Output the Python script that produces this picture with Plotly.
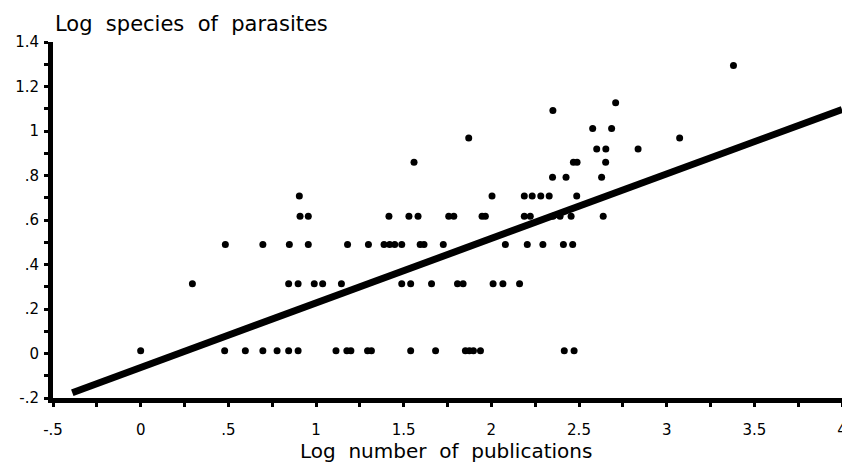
import plotly.graph_objects as go

# Log number of publications (x) and log species of parasites (y)
pubs_log = [
    # y ~ 0.01
    0.00, 0.479, 0.597, 0.697, 0.778, 0.844, 0.898, 1.114, 1.176, 1.199, 1.294, 1.316,
    1.540, 1.682, 1.852, 1.875, 1.898, 1.938, 2.416, 2.472,
    # y ~ 0.31
    0.295, 0.844, 0.898, 0.990, 1.038, 1.145, 1.489, 1.540, 1.659, 1.807, 1.839, 2.010,
    2.066, 2.161,
    # y ~ 0.49
    0.483, 0.697, 0.848, 0.956, 1.180, 1.299, 1.388, 1.420, 1.449, 1.489, 1.594, 1.616,
    1.726, 2.080, 2.205, 2.294, 2.411, 2.464,
    # y ~ 0.62
    0.909, 0.956, 1.416, 1.530, 1.582, 1.757, 1.786, 1.947, 1.966, 2.188, 2.222, 2.351,
    2.392, 2.455, 2.638,
    # y ~ 0.71
    0.905, 2.004, 2.188, 2.233, 2.282, 2.330, 2.487,
    # y ~ 0.79
    2.349, 2.426, 2.629,
    # y ~ 0.86
    1.559, 2.468, 2.489, 2.652,
    # y ~ 0.92
    2.601, 2.653, 2.837,
    # y ~ 0.97
    1.871, 3.074,
    # y ~ 1.01
    2.578, 2.686,
    # y ~ 1.09, 1.13, 1.29
    2.351, 2.709, 3.381,
]

species_log = (
    [0.012] * 20
    + [0.314] * 14
    + [0.490] * 18
    + [0.617] * 15
    + [0.708] * 7
    + [0.792] * 3
    + [0.859] * 4
    + [0.919] * 3
    + [0.968] * 2
    + [1.011] * 2
    + [1.092, 1.127, 1.294]
)

# Regression line end points
fit_x = [-0.39, 4.0]
fit_y = [-0.176, 1.097]

x_tickvals = [-0.5, 0, 0.5, 1, 1.5, 2, 2.5, 3, 3.5, 4]
x_ticktext = ["-.5", "0", ".5", "1", "1.5", "2", "2.5", "3", "3.5", "4"]
y_tickvals = [-0.2, 0, 0.2, 0.4, 0.6, 0.8, 1.0, 1.2, 1.4]
y_ticktext = ["-.2", "0", ".2", ".4", ".6", ".8", "1", "1.2", "1.4"]

FONT = "DejaVu Sans"

fig = go.Figure()
fig.add_trace(go.Scatter(
    x=fit_x, y=fit_y, mode="lines",
    line=dict(color="black", width=7),
    showlegend=False, hoverinfo="skip",
))
fig.add_trace(go.Scatter(
    x=pubs_log, y=species_log, mode="markers",
    marker=dict(color="black", size=7),
    showlegend=False,
))

axis_common = dict(
    showline=True, linecolor="black", linewidth=5,
    ticks="outside", ticklen=4, tickwidth=3, tickcolor="black",
    showgrid=False, zeroline=False, automargin=False,
    tickfont=dict(family=FONT, size=15, color="black"),
)

fig.update_xaxes(
    range=[-0.5, 4.0], tickvals=x_tickvals, ticktext=x_ticktext,
    minor=dict(dtick=0.25, tick0=-0.5, ticks="outside", ticklen=4, tickwidth=3, tickcolor="black"),
    ticklabelstandoff=10, ticklabeloverflow="allow",
    **axis_common,
)
fig.update_yaxes(
    range=[-0.2, 1.4], tickvals=y_tickvals, ticktext=y_ticktext,
    minor=dict(dtick=0.1, tick0=-0.2, ticks="outside", ticklen=4, tickwidth=3, tickcolor="black"),
    ticklabelstandoff=2,
    **axis_common,
)

fig.add_annotation(
    text="Log\u00a0 species\u00a0 of\u00a0 parasites",
    xref="paper", yref="paper", x=0, y=1.05, xanchor="left", yanchor="middle",
    showarrow=False, font=dict(family=FONT, size=21, color="black"),
)
fig.add_annotation(
    text="Log\u00a0 number\u00a0 of\u00a0 publications",
    xref="paper", yref="paper", x=0.498, y=-0.15, xanchor="center", yanchor="middle",
    showarrow=False, font=dict(family=FONT, size=20, color="black"),
)

fig.update_layout(
    width=842, height=468,
    margin=dict(l=53, r=0, t=42, b=70),
    paper_bgcolor="white", plot_bgcolor="white",
    font=dict(family=FONT, color="black"),
)

fig.write_html(
    "out.html",
    config={"displayModeBar": False},
    post_script="document.body.style.margin='0';document.body.style.padding='0';",
)
